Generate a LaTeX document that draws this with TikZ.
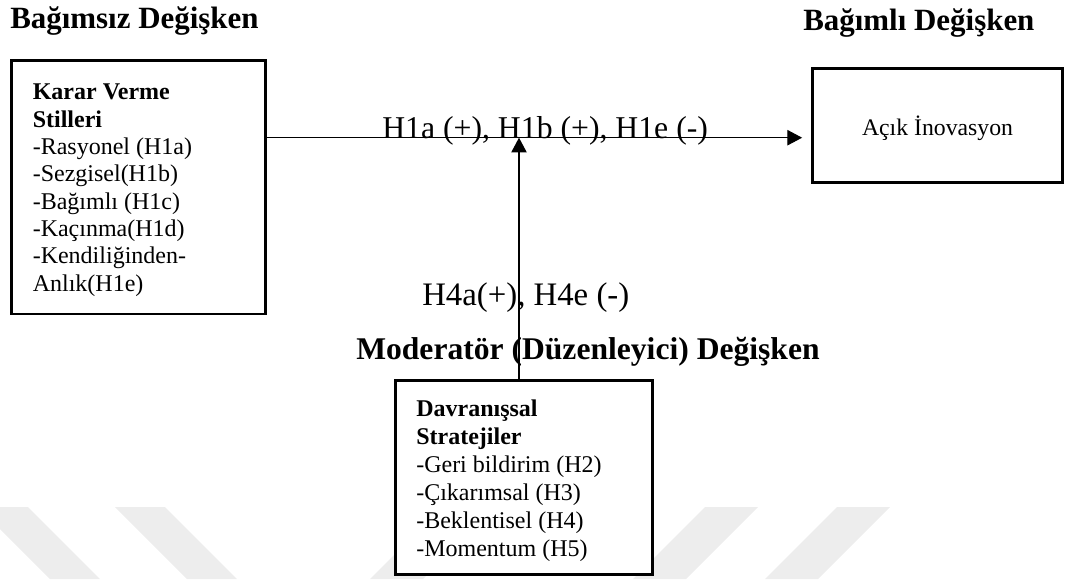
\documentclass[tikz,border=0pt]{standalone}
\usepackage{fontspec}
\setmainfont{Liberation Serif}
\usetikzlibrary{arrows.meta}
\definecolor{stripe}{HTML}{EDEDED}
\begin{document}
\begin{tikzpicture}[x=0.75pt,y=-0.75pt,
  box/.style={draw, line width=1.9pt, rectangle, inner sep=0pt},
  conn/.style={line width=0.8pt, -{Triangle[length=11pt,width=11.5pt]}},
  heading/.style={font=\fontsize{23.2}{27}\selectfont\bfseries, inner sep=0pt, anchor=base west},
  hlabel/.style={font=\fontsize{23.8}{28}\selectfont, inner sep=0pt, anchor=base west},
  boxtext/.style={inner sep=0pt, anchor=north west, align=left}]
\useasboundingbox (0,0) rectangle (1069,579);

% faint diagonal stripes along the bottom
\fill[stripe] (-22,507) -- (28,507) -- (100,579) -- (50,579) -- cycle;
\fill[stripe] (115,507) -- (165,507) -- (237,579) -- (187,579) -- cycle;
\fill[stripe] (442,507) -- (495,507) -- (423,579) -- (370,579) -- cycle;
\fill[stripe] (705,507) -- (758,507) -- (686,579) -- (633,579) -- cycle;
\fill[stripe] (837,507) -- (890,507) -- (818,579) -- (765,579) -- cycle;

% variable group headings
\node[heading] (hInd) at (10,28.5) {Bağımsız Değişken};
\node[heading] (hDep) at (803,30) {Bağımlı Değişken};
\node[heading, font=\fontsize{23.7}{27}\selectfont\bfseries] (hMod) at (356,359.5) {Moderatör (Düzenleyici) Değişken};

% boxes
\node[box, fill=white, minimum width=190.5pt, minimum height=190.1pt] (L) at (138.5,187.3) {};
\node[box, fill=white, minimum width=187.5pt, minimum height=85.5pt] (R) at (937.7,125.3) {};
\node[box, fill=white, minimum width=192.75pt, minimum height=145.2pt] (M) at (524.2,477.5) {};

\node[boxtext, font=\fontsize{18}{20.5}\selectfont] (Ltext) at (32.5,84)
  {\textbf{Karar Verme}\\\textbf{Stilleri}\\-Rasyonel (H1a)\\-Sezgisel(H1b)\\-Bağımlı (H1c)\\-Kaçınma(H1d)\\-Kendiliğinden-\\Anlık(H1e)};
\node[inner sep=0pt, anchor=base, font=\fontsize{17.8}{20}\selectfont] (Rtext) at (937.5,135) {Açık İnovasyon};
\node[boxtext, font=\fontsize{18}{21}\selectfont] (Mtext) at (416,400)
  {\textbf{Davranışsal}\\\textbf{Stratejiler}\\-Geri bildirim (H2)\\-Çıkarımsal (H3)\\-Beklentisel (H4)\\-Momentum (H5)};

% connectors
\coordinate (hy) at (0,137.7);
\coordinate (vx) at (519,0);
\draw[conn] (L.east |- hy) -- ([xshift=-7pt]R.west |- hy);
\draw[conn] (M.north -| vx) -- (vx |- hy);

% path labels
\node[hlabel] (lab1) at (382,138.3) {H1a (+), H1b (+), H1e (-)};
\node[hlabel, font=\fontsize{24.6}{29}\selectfont] (lab2) at (422,305.5) {H4a(+), H4e (-)};
\end{tikzpicture}
\end{document}
